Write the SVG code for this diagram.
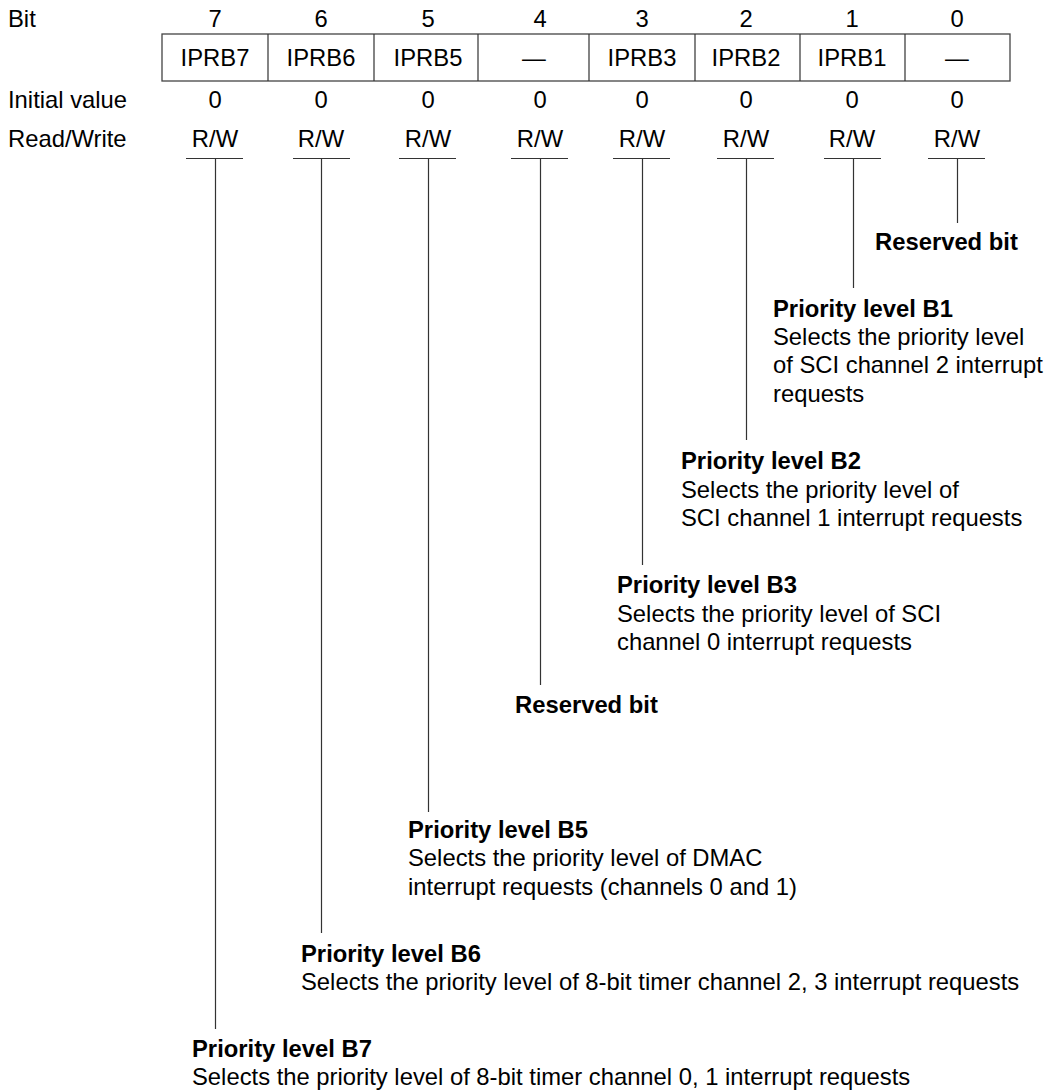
<svg xmlns="http://www.w3.org/2000/svg" width="1056" height="1091" viewBox="0 0 1056 1091">
<style>
text{font-family:"Liberation Sans",Arial,Helvetica,sans-serif;font-size:23.8px;fill:#000}
.c{text-anchor:middle}
.b{font-weight:bold}
.ln{stroke:#333;stroke-width:1.2;fill:none}
.bx{stroke:#444;stroke-width:1.3;fill:#fff}
</style>
<rect width="1056" height="1091" fill="#fff"/>
<g id="row-labels">
<text x="8" y="27">Bit</text>
<text x="8" y="108">Initial value</text>
<text x="8" y="147">Read/Write</text>
</g>
<g id="register">
<rect class="bx" x="162" y="34" width="848" height="47"/>
<path class="ln" d="M268 34V81M374 34V81M478 34V81M589 34V81M695 34V81M800 34V81M905 34V81"/>
</g>
<g id="bit7"><text class="c" x="215" y="27">7</text><text class="c" x="215" y="65.5">IPRB7</text><text class="c" x="215" y="108">0</text><text class="c" x="215" y="147">R/W</text></g>
<g id="bit6"><text class="c" x="321" y="27">6</text><text class="c" x="321" y="65.5">IPRB6</text><text class="c" x="321" y="108">0</text><text class="c" x="321" y="147">R/W</text></g>
<g id="bit5"><text class="c" x="428" y="27">5</text><text class="c" x="428" y="65.5">IPRB5</text><text class="c" x="428" y="108">0</text><text class="c" x="428" y="147">R/W</text></g>
<g id="bit4"><text class="c" x="540" y="27">4</text><text class="c" x="534" y="65.5">—</text><text class="c" x="540" y="108">0</text><text class="c" x="540" y="147">R/W</text></g>
<g id="bit3"><text class="c" x="642" y="27">3</text><text class="c" x="642" y="65.5">IPRB3</text><text class="c" x="642" y="108">0</text><text class="c" x="642" y="147">R/W</text></g>
<g id="bit2"><text class="c" x="746" y="27">2</text><text class="c" x="746" y="65.5">IPRB2</text><text class="c" x="746" y="108">0</text><text class="c" x="746" y="147">R/W</text></g>
<g id="bit1"><text class="c" x="852" y="27">1</text><text class="c" x="852" y="65.5">IPRB1</text><text class="c" x="852" y="108">0</text><text class="c" x="852" y="147">R/W</text></g>
<g id="bit0"><text class="c" x="957" y="27">0</text><text class="c" x="957" y="65.5">—</text><text class="c" x="957" y="108">0</text><text class="c" x="957" y="147">R/W</text></g>
<g id="connectors">
<path class="ln" d="M186 158.5H243M293 158.5H350M399 158.5H456M511 158.5H568M613 158.5H670M717 158.5H774M824 158.5H881M928 158.5H985"/>
<path class="ln" d="M215.5 159V1029M321.5 159V933M428.5 159V812M540.5 159V685M642.5 159V565M746.5 159V440M853.5 159V288M957.5 159V223"/>
</g>
<g id="desc0"><text class="b" x="875" y="249.5">Reserved bit</text></g>
<g id="desc1"><text class="b" x="773" y="316.7">Priority level B1</text><text x="773" y="345">Selects the priority level</text><text x="773" y="373.3">of SCI channel 2 interrupt</text><text x="773" y="401.6">requests</text></g>
<g id="desc2"><text class="b" x="681" y="469.3">Priority level B2</text><text x="681" y="497.6">Selects the priority level of</text><text x="681" y="525.9">SCI channel 1 interrupt requests</text></g>
<g id="desc3"><text class="b" x="617" y="593.3">Priority level B3</text><text x="617" y="621.6">Selects the priority level of SCI</text><text x="617" y="649.9">channel 0 interrupt requests</text></g>
<g id="desc4"><text class="b" x="515" y="713.3">Reserved bit</text></g>
<g id="desc5"><text class="b" x="408" y="838">Priority level B5</text><text x="408" y="866.3">Selects the priority level of DMAC</text><text x="408" y="894.6">interrupt requests (channels 0 and 1)</text></g>
<g id="desc6"><text class="b" x="301" y="961.7">Priority level B6</text><text x="301" y="990">Selects the priority level of 8-bit timer channel 2, 3 interrupt requests</text></g>
<g id="desc7"><text class="b" x="192" y="1056.5">Priority level B7</text><text x="192" y="1084.5">Selects the priority level of 8-bit timer channel 0, 1 interrupt requests</text></g>
</svg>
